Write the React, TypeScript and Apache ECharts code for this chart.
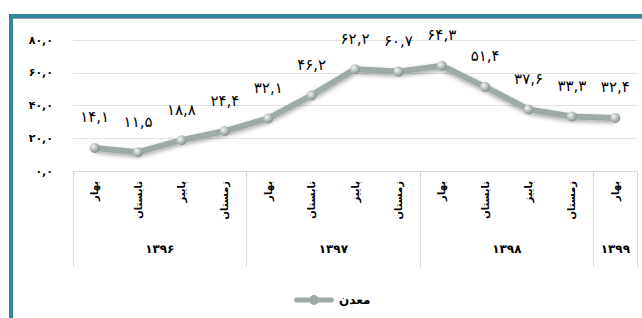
import React, { useEffect, useRef } from "react";
import * as echarts from "echarts";

const seasons = ["بهار", "تابستان", "پاییز", "زمستان", "بهار", "تابستان", "پاییز", "زمستان", "بهار", "تابستان", "پاییز", "زمستان", "بهار"];
const values = [14.1, 11.5, 18.8, 24.4, 32.1, 46.2, 62.2, 60.7, 64.3, 51.4, 37.6, 33.3, 32.4];
const years = ["۱۳۹۶", "۱۳۹۷", "۱۳۹۸", "۱۳۹۹"];
const yearSizes = [4, 4, 4, 1];
const seriesName = "معدن";

const FA = "۰۱۲۳۴۵۶۷۸۹";
const toFa = (s: string) => s.replace(/[0-9]/g, (d) => FA[+d]).replace(".", ",");

const legendIcon =
  "path://M2,3 L38,3 A2.5,2.5 0 0 1 38,8 L2,8 A2.5,2.5 0 0 1 2,3 Z M15,5.5 A5,5 0 1 1 25,5.5 A5,5 0 1 1 15,5.5 Z";

export default function App() {
  const ref = useRef<HTMLDivElement>(null);
  useEffect(() => {
    if (!ref.current) return;
    const chart = echarts.init(ref.current, undefined, { renderer: "svg" });
    const bounds: number[] = [0];
    const centers: number[] = [];
    let acc = 0;
    yearSizes.forEach((n) => {
      centers.push(acc + n / 2);
      acc += n;
      bounds.push(acc);
    });
    const font = "DejaVu Sans";
    chart.setOption({
      animation: false,
      grid: { left: 73, right: 5, top: 40, bottom: 147 },
      legend: {
        left: 289,
        top: 289,
        itemWidth: 40,
        itemHeight: 11,
        itemGap: 4,
        icon: legendIcon,
        itemStyle: { color: "#9eaaa6" },
        textStyle: { fontFamily: font, fontSize: 12, fontWeight: "bold", color: "#000" },
        data: [seriesName],
      },
      xAxis: [
        {
          type: "category",
          data: seasons,
          axisLine: { lineStyle: { color: "#d9d9d9", width: 1 } },
          axisTick: { show: false },
          axisLabel: {
            rotate: 90,
            margin: 10,
            interval: 0,
            fontFamily: font,
            fontSize: 10,
            fontWeight: "bold",
            color: "#000",
          },
        },
        {
          type: "value",
          min: 0,
          max: acc,
          position: "bottom",
          axisLine: { show: false },
          splitLine: { show: false },
          axisTick: {
            show: true,
            customValues: bounds,
            length: 96,
            lineStyle: { color: "#d9d9d9", width: 1 },
          },
          axisLabel: {
            customValues: centers,
            margin: 72,
            fontFamily: font,
            fontSize: 12,
            fontWeight: "bold",
            color: "#000",
            formatter: (v: number) => {
              const i = centers.findIndex((c) => Math.abs(c - v) < 1e-6);
              return i >= 0 ? years[i] : "";
            },
          },
        },
      ],
      yAxis: {
        type: "value",
        min: 0,
        max: 80,
        interval: 20,
        axisLine: { show: false },
        axisTick: { show: false },
        splitLine: { lineStyle: { color: "#e3e3e3", width: 1 } },
        axisLabel: {
          margin: 20,
          fontFamily: font,
          fontSize: 11,
          fontWeight: "bold",
          color: "#000",
          formatter: (v: number) => toFa(v.toFixed(1)),
        },
      },
      series: [
        {
          name: seriesName,
          type: "line",
          xAxisIndex: 0,
          data: values,
          symbol: "circle",
          symbolSize: 10,
          lineStyle: {
            color: "#9eaaa6",
            width: 6,
            shadowColor: "rgba(0,0,0,0.35)",
            shadowBlur: 4,
            shadowOffsetY: 2,
          },
          itemStyle: {
            color: new echarts.graphic.RadialGradient(0.35, 0.35, 0.75, [
              { offset: 0, color: "#f2f4f4" },
              { offset: 1, color: "#7a8784" },
            ]),
            borderWidth: 0,
          },
          label: {
            show: true,
            position: "top",
            distance: 18,
            fontFamily: font,
            fontSize: 15,
            color: "#000",
            formatter: (p: any) => toFa(String(p.value)),
          },
        },
      ],
    });
    return () => chart.dispose();
  }, []);
  return (
    <div style={{ position: "fixed", left: 0, top: 0, width: 642, height: 318, background: "#fff", overflow: "hidden" }}>
      <div
        style={{
          position: "absolute",
          left: 9,
          top: 14,
          width: 640,
          height: 320,
          borderTop: "4px solid #31859c",
          borderLeft: "4px solid #31859c",
          boxShadow: "inset 0 1px 0 #9a9a9a",
        }}
      />
      <div ref={ref} style={{ position: "absolute", left: 0, top: 0, width: 642, height: 318 }} />
    </div>
  );
}
